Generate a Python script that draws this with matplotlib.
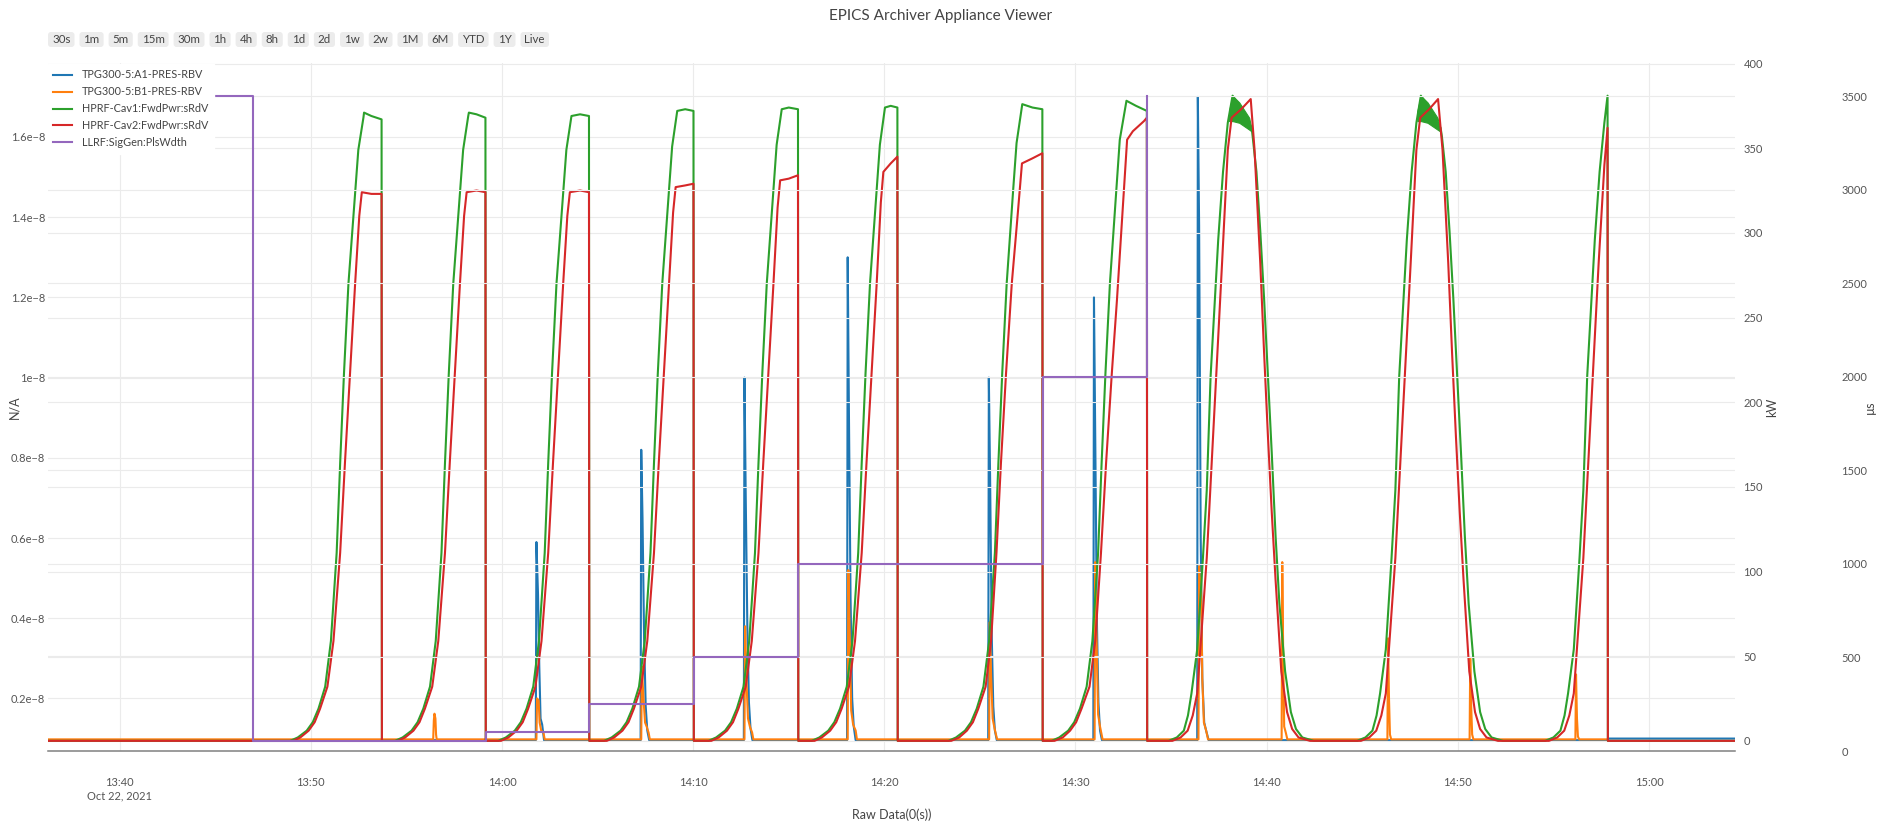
import matplotlib
matplotlib.use("Agg")
import matplotlib.pyplot as plt
from matplotlib.patches import FancyBboxPatch
from matplotlib.transforms import IdentityTransform
import pandas as pd

plt.rcParams['font.family'] = ['Lato', 'DejaVu Sans']

day = "2021-10-22 "
t_start, t_end = "13:36:15", "15:04:30"

# vacuum gauge TPG300-5:A1 (left axis)
a1_pres = [
    ("13:36:15", 0.96e-9),
    ("14:01:46", 0.96e-9), ("14:01:48", 5.9e-9), ("14:01:53", 4.6e-9), ("14:01:57", 2.8e-9), ("14:02:01", 1.5e-9), ("14:02:06", 1.35e-9), ("14:02:12", 0.96e-9),
    ("14:07:15", 0.96e-9), ("14:07:17", 8.2e-9), ("14:07:21", 6.5e-9), ("14:07:26", 3.5e-9), ("14:07:31", 1.8e-9), ("14:07:36", 1.2e-9), ("14:07:42", 0.96e-9),
    ("14:12:39", 0.96e-9), ("14:12:41", 1.0e-8), ("14:12:45", 7.0e-9), ("14:12:50", 3.8e-9), ("14:12:55", 1.9e-9), ("14:13:00", 1.25e-9), ("14:13:06", 0.96e-9),
    ("14:18:03", 0.96e-9), ("14:18:05", 1.3e-8), ("14:18:09", 9.0e-9), ("14:18:14", 4.5e-9), ("14:18:19", 2.0e-9), ("14:18:24", 1.3e-9), ("14:18:30", 0.96e-9),
    ("14:25:26", 0.96e-9), ("14:25:28", 1.0e-8), ("14:25:32", 7.5e-9), ("14:25:37", 3.6e-9), ("14:25:42", 1.8e-9), ("14:25:47", 1.2e-9), ("14:25:53", 0.96e-9),
    ("14:30:56", 0.96e-9), ("14:30:58", 1.2e-8), ("14:31:02", 8.5e-9), ("14:31:07", 4.0e-9), ("14:31:12", 1.9e-9), ("14:31:17", 1.2e-9), ("14:31:23", 0.96e-9),
    ("14:36:22", 0.96e-9), ("14:36:24", 1.7e-8), ("14:36:28", 1.38e-8), ("14:36:33", 6.0e-9), ("14:36:38", 2.5e-9), ("14:36:44", 1.4e-9), ("14:36:50", 1.2e-9), ("14:36:58", 0.96e-9),
    ("14:57:50", 0.96e-9), ("14:57:52", 1.0e-9), ("15:04:30", 1.0e-9),
]

# vacuum gauge TPG300-5:B1 (left axis)
b1_pres = [
    ("13:36:15", 0.98e-9),
    ("13:56:24", 0.98e-9), ("13:56:26", 1.45e-9), ("13:56:28", 1.62e-9), ("13:56:31", 1.5e-9), ("13:56:33", 1.1e-9), ("13:56:35", 0.98e-9),
    ("14:01:48", 0.98e-9), ("14:01:50", 2.0e-9), ("14:01:55", 1.95e-9), ("14:01:58", 1.4e-9), ("14:02:03", 1.2e-9), ("14:02:10", 1.15e-9), ("14:02:14", 0.98e-9),
    ("14:07:17", 0.98e-9), ("14:07:19", 2.8e-9), ("14:07:24", 2.0e-9), ("14:07:29", 1.4e-9), ("14:07:34", 1.3e-9), ("14:07:40", 1.15e-9), ("14:07:44", 0.98e-9),
    ("14:12:41", 0.98e-9), ("14:12:43", 3.8e-9), ("14:12:47", 2.5e-9), ("14:12:52", 1.5e-9), ("14:12:58", 1.3e-9), ("14:13:05", 1.15e-9), ("14:13:09", 0.98e-9),
    ("14:18:05", 0.98e-9), ("14:18:07", 5.2e-9), ("14:18:11", 3.7e-9), ("14:18:16", 1.7e-9), ("14:18:22", 1.35e-9), ("14:18:30", 1.2e-9), ("14:18:34", 0.98e-9),
    ("14:25:29", 0.98e-9), ("14:25:31", 3.9e-9), ("14:25:35", 2.6e-9), ("14:25:40", 1.5e-9), ("14:25:46", 1.25e-9), ("14:25:54", 0.98e-9),
    ("14:31:00", 0.98e-9), ("14:31:02", 5.4e-9), ("14:31:06", 3.5e-9), ("14:31:11", 1.6e-9), ("14:31:17", 1.3e-9), ("14:31:25", 0.98e-9),
    ("14:36:26", 0.98e-9), ("14:36:28", 5.3e-9), ("14:36:31", 4.6e-9), ("14:36:34", 5.0e-9), ("14:36:38", 2.5e-9), ("14:36:43", 1.4e-9), ("14:36:50", 1.2e-9), ("14:36:56", 0.98e-9),
    ("14:40:47", 0.98e-9), ("14:40:49", 5.4e-9), ("14:40:52", 3.0e-9), ("14:40:55", 1.3e-9), ("14:41:00", 1.15e-9), ("14:41:05", 0.98e-9),
    ("14:46:19", 0.98e-9), ("14:46:21", 3.5e-9), ("14:46:24", 2.0e-9), ("14:46:27", 1.1e-9), ("14:46:31", 0.98e-9),
    ("14:50:37", 0.98e-9), ("14:50:39", 3.0e-9), ("14:50:42", 1.8e-9), ("14:50:45", 1.1e-9), ("14:50:49", 0.98e-9),
    ("14:56:09", 0.98e-9), ("14:56:11", 2.6e-9), ("14:56:14", 1.5e-9), ("14:56:17", 1.05e-9), ("14:56:21", 0.98e-9),
    ("14:57:48", 0.98e-9),
]

# HPRF-Cav1 forward power, kW
cav1_fwd = [
    ("13:36:15", 0),
    ("13:48:55", 0), ("13:49:19", 2), ("13:49:47", 6), ("13:50:06", 11), ("13:50:24", 19), ("13:50:45", 32), ("13:51:03", 59), ("13:51:21", 111),
    ("13:51:32", 164), ("13:51:44", 217), ("13:51:58", 270), ("13:52:19", 323), ("13:52:29", 349), ("13:52:45", 368), ("13:52:47", 371),
    ("13:53:10", 369), ("13:53:42", 367), ("13:53:43", 0),
    ("13:54:24", 0), ("13:54:48", 2), ("13:55:16", 6), ("13:55:35", 11), ("13:55:53", 19), ("13:56:14", 32), ("13:56:32", 59), ("13:56:50", 111),
    ("13:57:01", 164), ("13:57:13", 217), ("13:57:27", 270), ("13:57:48", 323), ("13:57:58", 349), ("13:58:14", 369), ("13:58:16", 371),
    ("13:58:40", 370), ("13:59:08", 368), ("13:59:09", 0),
    ("13:59:48", 0), ("14:00:12", 2), ("14:00:40", 6), ("14:00:59", 11), ("14:01:17", 19), ("14:01:38", 32), ("14:01:56", 59), ("14:02:14", 111),
    ("14:02:25", 164), ("14:02:37", 217), ("14:02:51", 270), ("14:03:12", 323), ("14:03:22", 349), ("14:03:38", 369), ("14:04:05", 370),
    ("14:04:33", 369), ("14:04:34", 0),
    ("14:05:20", 0), ("14:05:44", 2), ("14:06:12", 6), ("14:06:31", 11), ("14:06:49", 19), ("14:07:10", 32), ("14:07:28", 59), ("14:07:46", 111),
    ("14:07:57", 164), ("14:08:09", 217), ("14:08:23", 270), ("14:08:44", 325), ("14:08:54", 351), ("14:09:10", 372), ("14:09:35", 373),
    ("14:10:01", 372), ("14:10:02", 0),
    ("14:10:48", 0), ("14:11:12", 2), ("14:11:40", 6), ("14:11:59", 11), ("14:12:17", 19), ("14:12:38", 32), ("14:12:56", 59), ("14:13:14", 111),
    ("14:13:25", 164), ("14:13:37", 217), ("14:13:51", 270), ("14:14:12", 326), ("14:14:22", 352), ("14:14:38", 373), ("14:15:00", 374),
    ("14:15:29", 373), ("14:15:30", 0),
    ("14:16:12", 0), ("14:16:36", 2), ("14:17:04", 6), ("14:17:23", 11), ("14:17:41", 19), ("14:18:02", 32), ("14:18:20", 59), ("14:18:38", 111),
    ("14:18:49", 164), ("14:19:01", 217), ("14:19:15", 270), ("14:19:36", 326), ("14:19:46", 352), ("14:20:02", 374), ("14:20:20", 375),
    ("14:20:41", 374), ("14:20:42", 0),
    ("14:23:21", 0), ("14:23:45", 2), ("14:24:13", 6), ("14:24:32", 11), ("14:24:50", 19), ("14:25:11", 32), ("14:25:29", 59), ("14:25:47", 111),
    ("14:25:58", 164), ("14:26:10", 217), ("14:26:24", 270), ("14:26:45", 327), ("14:26:55", 353), ("14:27:13", 376), ("14:27:45", 374),
    ("14:28:16", 373), ("14:28:17", 0),
    ("14:28:45", 0), ("14:29:09", 2), ("14:29:37", 6), ("14:29:56", 11), ("14:30:14", 19), ("14:30:35", 32), ("14:30:53", 59), ("14:31:11", 111),
    ("14:31:22", 164), ("14:31:34", 217), ("14:31:48", 270), ("14:32:09", 328), ("14:32:19", 355), ("14:32:40", 378), ("14:33:10", 375),
    ("14:33:44", 372), ("14:33:45", 0),
    ("14:34:52", 0), ("14:35:18", 2), ("14:35:40", 6), ("14:35:53", 15), ("14:36:04", 28), ("14:36:22", 54), ("14:36:40", 108), ("14:36:52", 148),
    ("14:37:04", 215), ("14:37:16", 255), ("14:37:28", 296), ("14:37:43", 336), ("14:37:58", 365), ("14:38:13", 381), ("14:38:43", 372),
    ("14:39:13", 362), ("14:39:16", 357), ("14:39:28", 336), ("14:39:40", 301), ("14:39:52", 261), ("14:40:04", 215), ("14:40:16", 170),
    ("14:40:28", 121), ("14:40:40", 81), ("14:40:58", 41), ("14:41:16", 17), ("14:41:32", 7), ("14:41:52", 2), ("14:42:28", 0),
    ("14:44:44", 0), ("14:45:10", 2), ("14:45:32", 6), ("14:45:45", 15), ("14:45:56", 28), ("14:46:14", 54), ("14:46:32", 108), ("14:46:44", 148),
    ("14:46:56", 215), ("14:47:08", 255), ("14:47:20", 296), ("14:47:35", 336), ("14:47:50", 365), ("14:48:04", 381), ("14:48:34", 372),
    ("14:49:06", 362), ("14:49:10", 357), ("14:49:22", 336), ("14:49:34", 301), ("14:49:46", 261), ("14:49:58", 215), ("14:50:10", 170),
    ("14:50:22", 121), ("14:50:34", 81), ("14:50:52", 41), ("14:51:10", 17), ("14:51:26", 7), ("14:51:46", 2), ("14:52:22", 0),
    ("14:54:34", 0), ("14:55:00", 2), ("14:55:22", 6), ("14:55:35", 15), ("14:55:46", 28), ("14:56:04", 54), ("14:56:22", 108), ("14:56:34", 148),
    ("14:56:46", 215), ("14:56:58", 255), ("14:57:10", 296), ("14:57:25", 336), ("14:57:40", 365), ("14:57:50", 381), ("14:57:51", 0),
    ("15:04:30", 0),
]

# HPRF-Cav2 forward power, kW
cav2_fwd = [
    ("13:36:15", 0),
    ("13:49:04", 0), ("13:49:27", 2), ("13:49:53", 6), ("13:50:12", 11), ("13:50:29", 19), ("13:50:52", 32), ("13:51:11", 59), ("13:51:32", 111),
    ("13:51:47", 164), ("13:52:03", 217), ("13:52:19", 270), ("13:52:32", 310), ("13:52:40", 324), ("13:53:10", 323), ("13:53:42", 323), ("13:53:43", 0),
    ("13:54:33", 0), ("13:54:56", 2), ("13:55:22", 6), ("13:55:41", 11), ("13:55:58", 19), ("13:56:21", 32), ("13:56:40", 59), ("13:57:01", 111),
    ("13:57:16", 164), ("13:57:32", 217), ("13:57:48", 270), ("13:58:01", 310), ("13:58:09", 324), ("13:58:40", 325), ("13:59:08", 324), ("13:59:09", 0),
    ("13:59:57", 0), ("14:00:20", 2), ("14:00:46", 6), ("14:01:05", 11), ("14:01:22", 19), ("14:01:45", 32), ("14:02:04", 59), ("14:02:25", 111),
    ("14:02:40", 164), ("14:02:56", 217), ("14:03:12", 270), ("14:03:25", 310), ("14:03:33", 324), ("14:04:05", 325), ("14:04:33", 324), ("14:04:34", 0),
    ("14:05:29", 0), ("14:05:52", 2), ("14:06:18", 6), ("14:06:37", 11), ("14:06:54", 19), ("14:07:17", 32), ("14:07:36", 59), ("14:07:57", 111),
    ("14:08:12", 164), ("14:08:28", 217), ("14:08:44", 270), ("14:08:57", 312), ("14:09:05", 327), ("14:09:35", 328), ("14:10:01", 329), ("14:10:02", 0),
    ("14:10:57", 0), ("14:11:20", 2), ("14:11:46", 6), ("14:12:05", 11), ("14:12:22", 19), ("14:12:45", 32), ("14:13:04", 59), ("14:13:25", 111),
    ("14:13:40", 164), ("14:13:56", 217), ("14:14:12", 270), ("14:14:25", 315), ("14:14:33", 331), ("14:15:00", 332), ("14:15:29", 334), ("14:15:30", 0),
    ("14:16:21", 0), ("14:16:44", 2), ("14:17:10", 6), ("14:17:29", 11), ("14:17:46", 19), ("14:18:09", 32), ("14:18:28", 59), ("14:18:49", 111),
    ("14:19:04", 164), ("14:19:20", 217), ("14:19:36", 270), ("14:19:49", 318), ("14:19:57", 336), ("14:20:20", 341), ("14:20:41", 345), ("14:20:42", 0),
    ("14:23:30", 0), ("14:23:55", 2), ("14:24:19", 6), ("14:24:38", 11), ("14:24:55", 19), ("14:25:18", 32), ("14:25:35", 59), ("14:25:52", 111),
    ("14:26:06", 164), ("14:26:22", 217), ("14:26:40", 270), ("14:26:56", 305), ("14:27:12", 341), ("14:27:45", 344), ("14:28:16", 347), ("14:28:17", 0),
    ("14:28:54", 0), ("14:29:20", 2), ("14:29:43", 6), ("14:30:02", 11), ("14:30:19", 19), ("14:30:44", 32), ("14:31:02", 59), ("14:31:20", 111),
    ("14:31:36", 164), ("14:31:54", 217), ("14:32:10", 260), ("14:32:22", 296), ("14:32:33", 330), ("14:32:42", 355), ("14:33:00", 360),
    ("14:33:35", 366), ("14:33:44", 368), ("14:33:45", 0),
    ("14:35:04", 0), ("14:35:30", 2), ("14:35:52", 6), ("14:36:08", 15), ("14:36:22", 28), ("14:36:37", 68), ("14:36:52", 108), ("14:37:07", 162),
    ("14:37:22", 215), ("14:37:40", 282), ("14:37:58", 349), ("14:38:10", 368), ("14:38:40", 373), ("14:39:10", 379), ("14:39:22", 349),
    ("14:39:40", 282), ("14:39:52", 229), ("14:40:04", 180), ("14:40:16", 135), ("14:40:28", 95), ("14:40:46", 41), ("14:41:04", 17),
    ("14:41:20", 7), ("14:41:40", 2), ("14:42:16", 0),
    ("14:44:56", 0), ("14:45:22", 2), ("14:45:44", 6), ("14:46:00", 15), ("14:46:14", 28), ("14:46:29", 68), ("14:46:44", 108), ("14:46:59", 162),
    ("14:47:14", 215), ("14:47:32", 282), ("14:47:50", 349), ("14:48:02", 368), ("14:48:30", 373), ("14:48:58", 379), ("14:49:12", 349),
    ("14:49:30", 282), ("14:49:42", 229), ("14:49:54", 180), ("14:50:06", 135), ("14:50:18", 95), ("14:50:36", 41), ("14:50:54", 17),
    ("14:51:10", 7), ("14:51:30", 2), ("14:52:06", 0),
    ("14:54:46", 0), ("14:55:12", 2), ("14:55:34", 6), ("14:55:50", 15), ("14:56:04", 28), ("14:56:19", 68), ("14:56:34", 108), ("14:56:49", 162),
    ("14:57:04", 215), ("14:57:22", 282), ("14:57:40", 340), ("14:57:50", 362), ("14:57:51", 0),
    ("15:04:30", 0),
]

# ripple envelope of Cav1 at the top of the two round peaks (time, upper, lower)
cav1_ripple_a = [("14:38:02", 372, 366), ("14:38:13", 381, 366), ("14:38:34", 377, 365), ("14:39:05", 368, 361), ("14:39:12", 362, 360)]
cav1_ripple_b = [("14:47:53", 372, 366), ("14:48:04", 381, 366), ("14:48:25", 377, 365), ("14:48:56", 368, 361), ("14:49:04", 362, 360)]

# LLRF pulse width, us (step changes)
pw_times = ["13:36:15", "13:46:57", "13:59:09", "14:04:34", "14:10:02", "14:15:30", "14:28:17", "14:33:45"]
pw_us = [3500, 55, 100, 250, 500, 1000, 2000, 3500]

names = ["TPG300-5:A1-PRES-RBV", "TPG300-5:B1-PRES-RBV", "HPRF-Cav1:FwdPwr:sRdV",
         "HPRF-Cav2:FwdPwr:sRdV", "LLRF:SigGen:PlsWdth"]
colors = ["#1f77b4", "#ff7f0e", "#2ca02c", "#d62728", "#9467bd"]

pres_ticks = [0.2e-8, 0.4e-8, 0.6e-8, 0.8e-8, 1.0e-8, 1.2e-8, 1.4e-8, 1.6e-8]
pres_labels = ["0.2e\u22128", "0.4e\u22128", "0.6e\u22128", "0.8e\u22128", "1e\u22128", "1.2e\u22128", "1.4e\u22128", "1.6e\u22128"]
kw_ticks = [0, 50, 100, 150, 200, 250, 300, 350, 400]
us_ticks = [0, 500, 1000, 1500, 2000, 2500, 3000, 3500]
buttons = ["30s", "1m", "5m", "15m", "30m", "1h", "4h", "8h", "1d", "2d", "1w", "2w", "1M", "6M", "YTD", "1Y", "Live"]


def to_time(strings):
    return pd.to_datetime([day + s for s in strings])


def split(pairs):
    return to_time([p[0] for p in pairs]), [p[1] for p in pairs]


W, H = 1881, 822
fig = plt.figure(figsize=(W / 100, H / 100), dpi=100)
left, right, top, bottom = 48, 1735, 63, 751
ax = fig.add_axes([left / W, 1 - bottom / H, (right - left) / W, (bottom - top) / H])
ax2 = ax.twinx()
ax3 = ax.twinx()

grid_kw = dict(color="#ebebeb", lw=0.8)
txt_col = "#555555"

lines = []
t, v = split(a1_pres)
lines += ax.plot(t, v, color=colors[0], lw=1.5)
t, v = split(b1_pres)
lines += ax.plot(t, v, color=colors[1], lw=1.5)
t, v = split(cav1_fwd)
lines += ax2.plot(t, v, color=colors[2], lw=1.5)
for rip in (cav1_ripple_a, cav1_ripple_b):
    ax2.fill_between(to_time([r[0] for r in rip]), [r[1] for r in rip], [r[2] for r in rip],
                     color=colors[2], lw=0.8)
t, v = split(cav2_fwd)
lines += ax2.plot(t, v, color=colors[3], lw=1.5)
lines += ax3.plot(to_time(pw_times), pw_us, color=colors[4], lw=1.5, drawstyle="steps-post")

xmin, xmax = to_time([t_start, t_end])
ax.set_xlim(xmin, xmax)
ax.set_ylim(0.069e-8, 1.7845e-8)
ax2.set_ylim(-6, 400.3)
ax3.set_ylim(0, 3679)

xt = pd.date_range(day + "13:40", day + "15:00", freq="10min")
ax.set_xticks(xt)
ax.set_xticklabels([x.strftime("%H:%M") + ("\nOct 22, 2021" if i == 0 else "") for i, x in enumerate(xt)])
ax.set_yticks(pres_ticks)
ax.set_yticklabels(pres_labels)
ax2.set_yticks(kw_ticks)
ax3.set_yticks(us_ticks)

ax.grid(True, axis="both", **grid_kw)
ax2.grid(True, axis="y", **grid_kw)
ax3.grid(True, axis="y", **grid_kw)
ax.set_axisbelow(True)
ax3.axhline(0, color="#808080", lw=1.1, clip_on=False)

for a in (ax, ax2, ax3):
    for s in a.spines.values():
        s.set_visible(False)
ax3.spines["right"].set_position(("axes", 1.058))
ax.tick_params(axis="y", length=0, pad=2, labelsize=8, labelcolor=txt_col)
ax.tick_params(axis="x", length=0, pad=19, labelsize=8, labelcolor=txt_col)
ax2.tick_params(axis="y", length=0, pad=6, labelsize=8, labelcolor=txt_col)
ax3.tick_params(axis="y", length=0, pad=6, labelsize=8, labelcolor=txt_col)
for lab in ax.get_xticklabels():
    lab.set_linespacing(1.25)

fig.text(0.5, 1 - 16 / H, "EPICS Archiver Appliance Viewer", ha="center", va="center", fontsize=11, color="#444444")
fig.text((left + right) / 2 / W, 1 - 815 / H, "Raw Data(0(s))", ha="center", va="center", fontsize=9, color="#444444")
fig.text(14 / W, 1 - 407 / H, "N/A", rotation=90, ha="center", va="center", fontsize=9, color="#444444")
fig.text(1772 / W, 1 - 407 / H, "kW", rotation=90, ha="center", va="center", fontsize=9, color="#444444")
fig.text(1870 / W, 1 - 407 / H, "\u00b5s", rotation=90, ha="center", va="center", fontsize=9, color="#444444")

# range selector buttons, laid out left to right in pixels
renderer = fig.canvas.get_renderer()
bx = 48
for b in buttons:
    tx = fig.text(0, 0, b, ha="center", va="center", fontsize=8.3, color="#444444")
    bw = tx.get_window_extent(renderer).width + 8
    fig.add_artist(FancyBboxPatch((bx, H - 47), bw, 15, boxstyle="round,pad=0,rounding_size=3",
                                  transform=IdentityTransform(), fc="#ececec", ec="none", zorder=1))
    tx.set_position(((bx + bw / 2) / W, 1 - 39.5 / H))
    tx.set_zorder(2)
    bx += bw + 5

leg = fig.legend(lines, names, loc="upper left", bbox_to_anchor=(48 / W, 1 - 64 / H),
                 bbox_transform=fig.transFigure, frameon=True, fancybox=False,
                 facecolor="white", edgecolor="white", framealpha=1, fontsize=7.8,
                 handlelength=1.75, handletextpad=0.9, labelspacing=0.55, borderpad=0.5,
                 borderaxespad=0)
for tx in leg.get_texts():
    tx.set_color("#444444")

fig.savefig("out.png", dpi=100)
